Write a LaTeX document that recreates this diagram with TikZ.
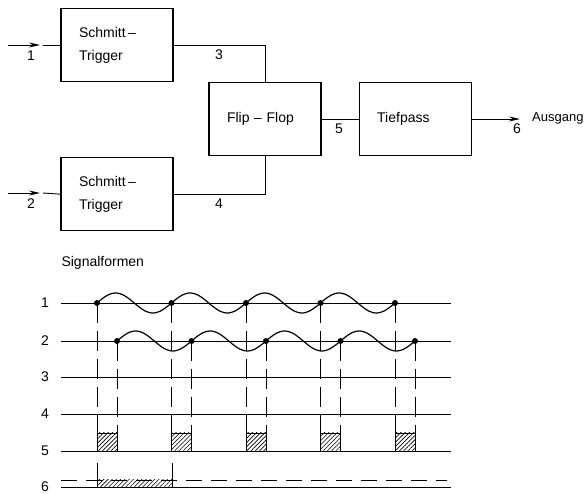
\documentclass[tikz,border=0pt]{standalone}
\usepackage{fontspec}
\setmainfont{Liberation Sans}
\usetikzlibrary{positioning,arrows.meta,patterns.meta}
\tikzset{
  block/.style={draw,line width=1.2pt,minimum height=73pt,text width=76pt,
    inner xsep=18pt,align=left,font=\fontsize{14}{23}\selectfont},
  wire/.style={line width=0.9pt},
  arrowwire/.style={-{Stealth[length=11pt,width=5pt]},line width=0.9pt},
  numlabel/.style={font=\fontsize{14}{16}\selectfont},
  axisline/.style={line width=0.8pt},
  guide/.style={dash pattern=on 20pt off 8pt,line width=0.7pt},
  levelline/.style={dash pattern=on 16pt off 9pt,line width=0.8pt},
  wave/.style={line width=1.2pt},
  hatch/.style={pattern={Lines[angle=45,distance=3pt,line width=0.6pt]}},
  pulse/.style={draw,line width=0.9pt,hatch},
  dot/.style={circle,fill,inner sep=0pt,minimum size=6pt}
}
\begin{document}
\begin{tikzpicture}[x=1pt,y=-1pt]
  \useasboundingbox (0,0) rectangle (587,494);
  \node[block] (st1) at (117,45) {Schmitt\,--\\Trigger};
  \node[block,below=75pt of st1] (st2) {Schmitt\,--\\Trigger};
  \node[block] (ff) at (265,119) {Flip -- Flop};
  \node[block,right=37pt of ff] (tp) {Tiefpass};
  \coordinate (in1) at (8,45);
  \coordinate (in1e) at (40,45);
  \coordinate (in1s) at (43,45);
  \coordinate (in2) at (8,193);
  \coordinate (in2e) at (40,193);
  \coordinate (in2s) at (43,193);
  \coordinate (out) at (520,119);
  \draw[arrowwire] (in1) -- (in1e);
  \draw[wire] (in1s) -- (st1.west);
  \draw[arrowwire] (in2) -- (in2e);
  \draw[wire] (in2s) -- (st2.west);
  \draw[wire] (st1.east) -| (ff.north);
  \draw[wire] (st2.east) -| (ff.south);
  \draw[wire] (ff.east) -- (tp.west);
  \draw[arrowwire] (tp.east) -- (out);
  \node[numlabel] (l1) at (31,56) {1};
  \node[numlabel] (l2) at (31,204) {2};
  \node[numlabel] (l3) at (219,55) {3};
  \node[numlabel] (l4) at (219,204) {4};
  \node[numlabel] (l5) at (339,129) {5};
  \node[numlabel] (l6) at (517,129) {6};
  \node[numlabel,anchor=west,inner sep=0pt,font=\fontsize{13}{16}\selectfont] (outlabel) at (532,118) {Ausgang};

  \node[numlabel,anchor=west] (title) at (58,263) {Signalformen};
  \foreach \r/\y in {1/303,2/341,3/377,4/414,5/451,6/487}{
    \node[numlabel] (row\r) at (45,\y) {\r};
    \draw[axisline] (61,\y) -- (451,\y);
  }
  \draw[wave] plot[domain=0:4,samples=121,smooth] ({97+74.5*\x},{303-10*sin(360*\x)});
  \draw[wave] plot[domain=0:4,samples=121,smooth] ({117+74.5*\x},{341-10*sin(360*\x)});
  \foreach \k in {0,...,4}{
    \draw[guide] ({97+74.5*\k},303) -- ({97+74.5*\k},451);
    \draw[guide] ({117+74.5*\k},341) -- ({117+74.5*\k},451);
    \draw[pulse] ({97+74.5*\k},433) rectangle ({117+74.5*\k},451);
    \node[dot] (a\k) at ({97+74.5*\k},303) {};
    \node[dot] (b\k) at ({117+74.5*\k},341) {};
  }
  \draw[levelline] (61,480) -- (447,480);
  \fill[hatch] (97,480) rectangle (172,487);
  \draw[axisline] (97,463) -- (97,487);
  \draw[axisline] (172,463) -- (172,487);
\end{tikzpicture}
\end{document}
